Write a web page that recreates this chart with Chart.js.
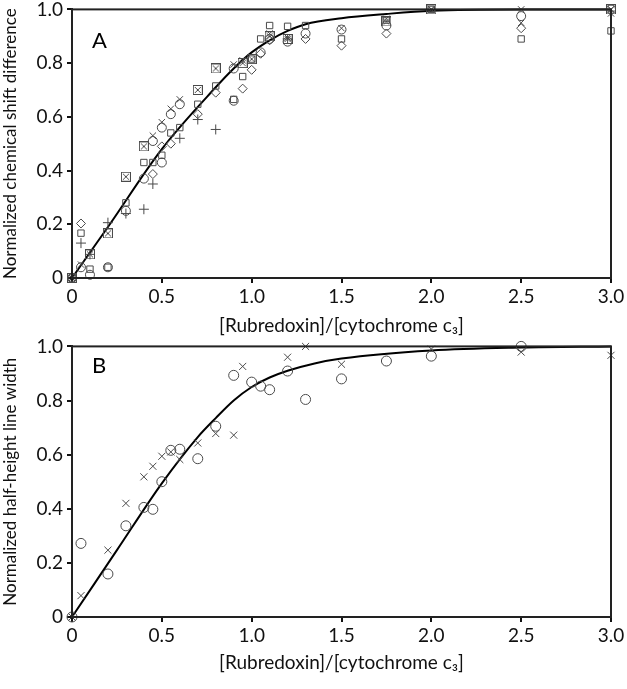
<!DOCTYPE html>
<html>
<head>
<meta charset="utf-8">
<script src="https://cdn.jsdelivr.net/npm/chart.js@4.4.1/dist/chart.umd.min.js"></script>
<style>
  body { margin: 0; background: #fff; overflow: hidden; }
  #wrapA { position: absolute; left: 0; top: -6px; width: 627px; height: 351px; }
  #wrapB { position: absolute; left: 0; top: 331px; width: 627px; height: 358px; }
</style>
</head>
<body>
<div id="wrapA"><canvas id="chartA"></canvas></div>
<div id="wrapB"><canvas id="chartB"></canvas></div>
<script>
// PANEL A - chemical shift differences, one marker type per residue
const aSquares = [[0,0],[0.05,0.167],[0.1,0.033],[0.2,0.04],[0.3,0.28],[0.4,0.43],[0.45,0.43],[0.5,0.457],[0.55,0.54],[0.6,0.56],[0.7,0.647],[0.8,0.715],[0.9,0.665],[0.95,0.75],[1.0,0.815],[1.05,0.89],[1.1,0.94],[1.2,0.937],[1.3,0.94],[1.5,0.89],[1.75,0.96],[2.0,1.0],[2.5,0.89],[3.0,0.92]];
const aCircles = [[0,0],[0.05,0.04],[0.1,0.012],[0.2,0.04],[0.3,0.25],[0.4,0.37],[0.45,0.51],[0.5,0.43],[0.5,0.56],[0.55,0.61],[0.6,0.647],[0.9,0.78],[0.9,0.66],[1.05,0.84],[1.1,0.89],[1.2,0.88],[1.3,0.91],[1.5,0.925],[1.75,0.94],[2.5,0.975],[3.0,1.0]];
const aDiamonds = [[0.05,0.203],[0.45,0.387],[0.5,0.49],[0.55,0.50],[0.7,0.61],[0.8,0.69],[0.95,0.705],[1.0,0.775],[1.05,0.835],[1.1,0.885],[1.3,0.89],[1.5,0.865],[1.75,0.91],[2.5,0.93]];
const aPlus = [[0.05,0.13],[0.1,0.088],[0.2,0.206],[0.3,0.24],[0.4,0.256],[0.45,0.35],[0.6,0.52],[0.7,0.59],[0.8,0.553],[1.2,0.89]];
const aCrosses = [[0.05,0.05],[0.45,0.53],[0.5,0.58],[0.55,0.63],[0.6,0.665],[0.9,0.795],[0.95,0.81],[1.1,0.91],[1.2,0.895],[1.5,0.93],[1.75,0.965],[2.0,1.0],[2.5,1.0],[2.5,0.95],[3.0,0.985],[3.0,1.0]];
const aBoxed = [[0,0],[0.1,0.088],[0.2,0.166],[0.3,0.377],[0.4,0.49],[0.7,0.70],[0.8,0.78],[0.95,0.80],[1.0,0.815],[1.1,0.90],[1.2,0.89],[1.75,0.955],[2.0,1.0],[3.0,1.0]];
const aFit = [[0,0],[0.2,0.19],[0.5,0.48],[0.8,0.71],[0.9,0.78],[1.0,0.84],[1.1,0.885],[1.2,0.92],[1.3,0.945],[1.5,0.967],[1.75,0.983],[2.0,0.995],[2.5,1.0],[3.0,1.0]];

// PANEL B - half-height line widths
const bCircles = [[0,0],[0.05,0.272],[0.2,0.159],[0.3,0.337],[0.4,0.405],[0.45,0.398],[0.5,0.50],[0.55,0.616],[0.6,0.62],[0.7,0.585],[0.8,0.705],[0.9,0.893],[1.0,0.868],[1.05,0.853],[1.1,0.84],[1.2,0.909],[1.3,0.804],[1.5,0.88],[1.75,0.946],[2.0,0.964],[2.5,1.0]];
const bCrosses = [[0,0],[0.05,0.079],[0.2,0.247],[0.3,0.42],[0.4,0.518],[0.45,0.557],[0.5,0.594],[0.55,0.61],[0.6,0.582],[0.7,0.643],[0.8,0.678],[0.9,0.672],[0.95,0.926],[1.2,0.96],[1.3,1.0],[1.5,0.934],[2.0,0.99],[2.5,0.979],[3.0,0.967]];
const bFit = [[0,0],[0.25,0.247],[0.5,0.494],[0.7,0.665],[0.8,0.735],[0.9,0.80],[1.0,0.85],[1.1,0.885],[1.2,0.91],[1.35,0.937],[1.5,0.955],[2.0,0.985],[2.5,0.996],[3.0,1.0]];

const xTicks = [0, 0.5, 1.0, 1.5, 2.0, 2.5, 3.0];
const yTicks = [0, 0.2, 0.4, 0.6, 0.8, 1.0];

const markColor = '#4a4a4a';
const fontName = 'Lato, "Open Sans", sans-serif';

// square with an x inside it
const boxedMark = document.createElement('canvas');
boxedMark.width = 10; boxedMark.height = 10;
(function () {
    const c = boxedMark.getContext('2d');
    c.strokeStyle = markColor;
    c.lineWidth = 1;
    c.strokeRect(0.5, 0.5, 9, 9);
    c.beginPath();
    c.moveTo(2, 2); c.lineTo(8, 8);
    c.moveTo(8, 2); c.lineTo(2, 8);
    c.stroke();
})();

function pts(arr) {
    return arr.map(p => ({ x: p[0], y: p[1] }));
}

function markSet(arr, style, radius) {
    return {
        data: pts(arr),
        showLine: false,
        pointStyle: style,
        pointRadius: radius,
        pointBorderColor: markColor,
        pointBackgroundColor: 'rgba(0,0,0,0)',
        pointBorderWidth: 1,
        clip: false
    };
}

function fitSet(arr) {
    return {
        data: pts(arr),
        showLine: true,
        borderColor: '#000',
        borderWidth: 2,
        pointRadius: 0,
        cubicInterpolationMode: 'monotone',
        clip: false
    };
}

// box round the plot and the panel letter
const framePlugin = {
    id: 'frame',
    afterDraw(chart, args, opts) {
        const a = chart.chartArea;
        const ctx = chart.ctx;
        ctx.save();
        ctx.strokeStyle = '#222';
        ctx.lineWidth = 2;
        ctx.strokeRect(a.left, a.top, a.right - a.left, a.bottom - a.top);
        ctx.fillStyle = '#000';
        ctx.font = '22px ' + fontName;
        ctx.textBaseline = 'alphabetic';
        ctx.fillText(opts.letter, a.left + 20, a.top + opts.letterY);
        ctx.restore();
    }
};

function makeChart(id, datasets, yTitle, letter, letterY, xHeight, padBottom) {
    return new Chart(document.getElementById(id), {
        type: 'scatter',
        data: { datasets: datasets },
        plugins: [framePlugin],
        options: {
            responsive: true,
            maintainAspectRatio: false,
            animation: false,
            layout: { padding: { top: 0, right: 16, left: 0, bottom: padBottom } },
            plugins: {
                legend: { display: false },
                tooltip: { enabled: false },
                frame: { letter: letter, letterY: letterY }
            },
            scales: {
                x: {
                    type: 'linear',
                    min: 0, max: 3,
                    afterFit(scale) { scale.height = xHeight; },
                    afterBuildTicks(scale) { scale.ticks = xTicks.map(v => ({ value: v })); },
                    border: { color: '#222', width: 2 },
                    grid: { drawOnChartArea: false, tickLength: 5, color: '#111', lineWidth: 2 },
                    ticks: {
                        color: '#111',
                        padding: 2,
                        maxRotation: 0,
                        font: { family: fontName, size: 19 },
                        callback: v => v === 0 ? '0' : v.toFixed(1)
                    },
                    title: {
                        display: true,
                        text: '[Rubredoxin]/[cytochrome c\u2083]',
                        color: '#111',
                        padding: { top: 2, bottom: 0 },
                        font: { family: fontName, size: 19 }
                    }
                },
                y: {
                    type: 'linear',
                    min: 0, max: 1,
                    afterFit(scale) { scale.width = 72; },
                    afterBuildTicks(scale) { scale.ticks = yTicks.map(v => ({ value: v })); },
                    border: { color: '#222', width: 2 },
                    grid: { drawOnChartArea: false, tickLength: 5, color: '#111', lineWidth: 2 },
                    ticks: {
                        color: '#111',
                        padding: 4,
                        font: { family: fontName, size: 19 },
                        callback: v => v === 0 ? '0' : v.toFixed(1)
                    },
                    title: {
                        display: true,
                        text: yTitle,
                        color: '#111',
                        padding: { top: 0, bottom: 0 },
                        font: { family: fontName, size: 17 }
                    }
                }
            }
        }
    });
}

makeChart('chartA', [
    markSet(aSquares, 'rect', 4.5),
    markSet(aCircles, 'circle', 4.5),
    markSet(aDiamonds, 'rectRot', 4.5),
    markSet(aPlus, 'cross', 5),
    markSet(aCrosses, 'crossRot', 4.5),
    markSet(aBoxed, boxedMark, 5),
    fitSet(aFit)
], 'Normalized chemical shift difference', 'A', 39, 59, 8);

makeChart('chartB', [
    markSet(bCircles, 'circle', 5),
    markSet(bCrosses, 'crossRot', 5),
    fitSet(bFit)
], 'Normalized half-height line width', 'B', 27, 57, 15);
</script>
</body>
</html>
